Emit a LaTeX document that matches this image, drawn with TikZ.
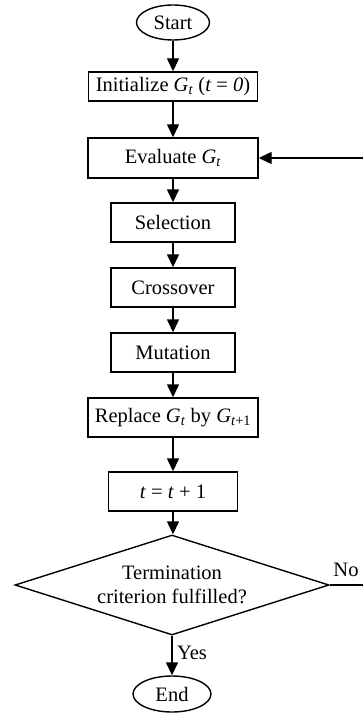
\documentclass[tikz,border=0pt]{standalone}
\usepackage{fontspec}
\setmainfont{Liberation Serif}
\usetikzlibrary{shapes.geometric,arrows.meta}
\begin{document}
\begin{tikzpicture}[x=1pt,y=-1pt,
  font=\fontsize{20.5}{23.5}\selectfont,
  line width=1.4pt,
  box/.style={draw, rectangle, inner sep=0pt, align=center},
  term/.style={draw, ellipse, inner sep=0pt},
  dec/.style={draw, diamond, aspect=3.14, inner sep=0pt, align=center},
  arr/.style={-{Triangle[length=13pt,width=12pt]}}]
\useasboundingbox (0,0) rectangle (363,714);
\clip (0,0) rectangle (363,714);
\node[term, minimum width=73pt, minimum height=35pt] (start) at (173,22.5) {Start};
\node[box, minimum width=169pt, minimum height=29pt] (init) at (173,86.5)
  {Initialize \textit{G}\textsubscript{\textit{t}} (\textit{t} = \textit{0})};
\node[box, minimum width=170pt, minimum height=40pt] (eval) at (173,158)
  {Evaluate \textit{G}\textsubscript{\textit{t}}};
\node[box, minimum width=124pt, minimum height=39pt] (sel) at (173,222.5) {Selection};
\node[box, minimum width=124pt, minimum height=39pt] (cross) at (173,287.5) {Crossover};
\node[box, minimum width=124pt, minimum height=39pt] (mut) at (173,352.5) {Mutation};
\node[box, minimum width=170pt, minimum height=39pt] (rep) at (173,417.5)
  {Replace \textit{G}\textsubscript{\textit{t}} by \textit{G}\textsubscript{\textit{t}+1}};
\node[box, minimum width=129pt, minimum height=39pt] (inc) at (173,491.5)
  {\textit{t} = \textit{t} + 1};
\node[dec, minimum width=314pt, minimum height=100pt] (term) at (172,585)
  {Termination\\criterion fulfilled?};
\node[term, minimum width=78pt, minimum height=36pt] (end) at (172,694) {End};
\draw[arr] (start.south) -- (start.south |- init.north);
\draw[arr] (init.south) -- (init.south |- eval.north);
\draw[arr] (eval.south) -- (eval.south |- sel.north);
\draw[arr] (sel.south) -- (sel.south |- cross.north);
\draw[arr] (cross.south) -- (cross.south |- mut.north);
\draw[arr] (mut.south) -- (mut.south |- rep.north);
\draw[arr] (rep.south) -- (rep.south |- inc.north);
\draw[arr] (inc.south) -- (inc.south |- term.north);
\draw[arr] (term.south) -- (end.north);
\draw[arr] (term.east) -- ++(45,0) |- (eval.east);
\node (no) at (346,570) {No};
\node (yes) at (192,653) {Yes};
\end{tikzpicture}
\end{document}
